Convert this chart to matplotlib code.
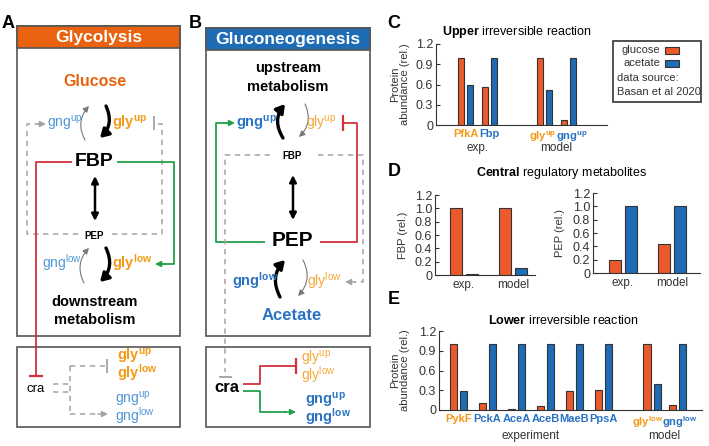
import matplotlib
matplotlib.use('Agg')
import matplotlib.pyplot as plt
from matplotlib.patches import Rectangle, FancyArrowPatch
import matplotlib.transforms as mtransforms

plt.rcParams['font.family'] = ['Liberation Sans', 'DejaVu Sans']
plt.rcParams['mathtext.fontset'] = 'custom'
plt.rcParams['mathtext.rm'] = 'Liberation Sans'
plt.rcParams['mathtext.bf'] = 'Liberation Sans:bold'
plt.rcParams['mathtext.it'] = 'Liberation Sans:italic'

# kolory
OR_BAR = '#ec5a2c'
BL_BAR = '#1e6bb6'
AMBER = '#f39a16'
LAMBER = '#f6a83a'
BL_TXT = '#2a72c2'
LBLUE = '#5096d6'
GREEN = '#23a04a'
RED = '#d3323c'
GREY = '#a3a3a3'
HDR_OR = '#e8620f'
HDR_BL = '#1d6cb4'
TXT = '#333333'

# ---------------- dane ----------------
c_labels = ['PfkA', 'Fbp', r'gly$^{\mathbf{up}}$', r'gng$^{\mathbf{up}}$']
c_colors = [AMBER, BL_TXT, AMBER, BL_TXT]
c_glucose = [1.0, 0.57, 1.0, 0.08]
c_acetate = [0.6, 1.0, 0.52, 1.0]
c_ticks = [0, 0.3, 0.6, 0.9, 1.2]

d_groups = ['exp.', 'model']
d_fbp_glucose = [1.0, 1.0]
d_fbp_acetate = [0.01, 0.1]
d_pep_glucose = [0.2, 0.44]
d_pep_acetate = [1.0, 1.0]
d_ticks = [0, 0.2, 0.4, 0.6, 0.8, 1.0, 1.2]

e_labels = ['PykF', 'PckA', 'AceA', 'AceB', 'MaeB', 'PpsA',
            r'gly$^{\mathbf{low}}$', r'gng$^{\mathbf{low}}$']
e_colors = [AMBER, BL_TXT, BL_TXT, BL_TXT, BL_TXT, BL_TXT, AMBER, BL_TXT]
e_glucose = [1.0, 0.1, 0.02, 0.06, 0.29, 0.31, 1.0, 0.08]
e_acetate = [0.29, 1.0, 1.0, 1.0, 1.0, 1.0, 0.39, 1.0]

# polozenia grup na osi x
c_pos = [0, 1, 3.3, 4.3]
d_pos = [0, 1]
e_pos = [0, 1, 2, 3, 4, 5, 6.68, 7.55]

W, H = 709, 446
fig = plt.figure(figsize=(W / 100, H / 100), dpi=100)

# warstwa na schematy (piksele, y w dol)
d = fig.add_axes([0, 0, 1, 1])
d.set_xlim(0, W)
d.set_ylim(H, 0)
d.axis('off')


def txt(x, y, s, size=10, color='black', weight='normal', **kw):
    d.text(x, y, s, fontsize=size, color=color, fontweight=weight,
           ha=kw.pop('ha', 'center'), va=kw.pop('va', 'center'), **kw)


def line(pts, color, lw=1.3, ls='-'):
    xs = [p[0] for p in pts]
    ys = [p[1] for p in pts]
    d.plot(xs, ys, color=color, lw=lw, ls=ls, solid_capstyle='butt')


def dashed(pts):
    line(pts, GREY, lw=1.1, ls=(0, (3.5, 3)))


def head(p0, p1, color, ms=9):
    d.add_patch(FancyArrowPatch(p0, p1, arrowstyle='-|>', color=color,
                                mutation_scale=ms, lw=1.0, shrinkA=0, shrinkB=0))


def arc(p0, p1, thick):
    if thick:
        a = FancyArrowPatch(p0, p1, connectionstyle='arc3,rad=-0.35',
                            arrowstyle='-|>,head_length=0.5,head_width=0.3',
                            color='black', lw=2.4, mutation_scale=10,
                            shrinkA=0, shrinkB=0)
    else:
        a = FancyArrowPatch(p0, p1, connectionstyle='arc3,rad=-0.35',
                            arrowstyle='-|>,head_length=0.5,head_width=0.25',
                            color='#777777', lw=0.8, mutation_scale=7,
                            shrinkA=0, shrinkB=0)
    d.add_patch(a)


def box(x0, y0, x1, y1):
    d.add_patch(Rectangle((x0, y0), x1 - x0, y1 - y0, fill=False,
                          ec='#555555', lw=1.2))


# ---------------- panel A ----------------
txt(8, 24, 'A', 13, weight='bold')
box(17, 26, 180, 336)
d.add_patch(Rectangle((17, 26), 163, 22, fc=HDR_OR, ec='#555555', lw=1.2))
txt(98.5, 37.5, 'Glycolysis', 12.5, 'white', 'bold')
txt(95, 81, 'Glucose', 11.5, HDR_OR, 'bold')

txt(65, 123, r'gng$^{\mathrm{up}}$', 10, LBLUE)
arc((85, 140), (89, 106), False)
arc((106, 106), (100, 138), True)
txt(130, 123, r'gly$^{\mathbf{up}}$', 10.5, AMBER, 'bold')
line([(154, 116), (154, 130)], GREY, lw=1.3)
dashed([(40, 124), (27, 124), (27, 234), (82, 234)])
head((38, 124), (46, 124), GREY)
dashed([(112, 234), (162, 234), (162, 124), (157, 124)])

txt(94, 161, 'FBP', 14, weight='bold')
line([(72, 162), (36, 162), (36, 376)], RED)
line([(29, 376), (43, 376)], RED, lw=1.6)
line([(117, 162), (174, 162), (174, 264), (162, 264)], GREEN)
head((163, 264), (155, 264), GREEN)

d.add_patch(FancyArrowPatch((95, 176), (95, 221), arrowstyle='<|-|>',
                            color='black', lw=1.8, mutation_scale=10,
                            shrinkA=0, shrinkB=0))
txt(94, 236, 'PEP', 7, weight='bold')

txt(62, 263, r'gng$^{\mathrm{low}}$', 10, LBLUE)
arc((84, 283), (89, 248), False)
arc((106, 248), (100, 282), True)
txt(132, 263, r'gly$^{\mathbf{low}}$', 10.5, AMBER, 'bold')
txt(95, 302, 'downstream', 10.5, weight='bold')
txt(95, 320, 'metabolism', 10.5, weight='bold')

box(17, 347, 180, 427)
txt(36, 389, 'cra', 9.5)
dashed([(53, 384), (70, 384)])
dashed([(53, 392), (70, 392)])
dashed([(70, 366), (70, 414)])
dashed([(70, 366), (105, 366)])
line([(107, 359), (107, 373)], GREY, lw=1.3)
dashed([(70, 414), (100, 414)])
head((98, 414), (108, 414), GREY)
txt(137, 365, 'gly$^{\\mathbf{up}}$\ngly$^{\\mathbf{low}}$', 10.5, AMBER, 'bold',
    linespacing=0.8, multialignment='left')
txt(135, 408, 'gng$^{\\mathrm{up}}$\ngng$^{\\mathrm{low}}$', 10, LBLUE,
    linespacing=0.8, multialignment='left')

# ---------------- panel B ----------------
txt(195, 24, 'B', 13, weight='bold')
box(206, 28, 370, 336)
d.add_patch(Rectangle((206, 28), 164, 22, fc=HDR_BL, ec='#555555', lw=1.2))
txt(288, 39.5, 'Gluconeogenesis', 12.5, 'white', 'bold')
txt(288, 68, 'upstream', 10.5, weight='bold')
txt(288, 87, 'metabolism', 10.5, weight='bold')

txt(257, 123, r'gng$^{\mathbf{up}}$', 10.5, BL_TXT, 'bold')
arc((283, 138), (285, 104), True)
arc((305, 104), (299, 137), False)
txt(321, 123, r'gly$^{\mathrm{up}}$', 10, LAMBER)
line([(343, 115), (343, 131)], RED, lw=1.6)
line([(343, 123), (357, 123), (357, 242), (320, 242)], RED)
line([(265, 242), (216, 242), (216, 123), (228, 123)], GREEN)
head((226, 123), (235, 123), GREEN)

dashed([(270, 155), (225, 155), (225, 372)])
line([(219, 377), (232, 377)], GREY, lw=1.3)
dashed([(318, 155), (363, 155), (363, 282), (354, 282)])
head((355, 282), (345, 282), GREY)
txt(292, 156, 'FBP', 7, weight='bold')

d.add_patch(FancyArrowPatch((293, 175), (293, 220), arrowstyle='<|-|>',
                            color='black', lw=1.8, mutation_scale=10,
                            shrinkA=0, shrinkB=0))
txt(292, 241, 'PEP', 15, weight='bold')

txt(255, 281, r'gng$^{\mathbf{low}}$', 10.5, BL_TXT, 'bold')
arc((280, 297), (285, 260), True)
arc((303, 260), (298, 296), False)
txt(324, 281, r'gly$^{\mathrm{low}}$', 10, LAMBER)
txt(292, 315, 'Acetate', 12, BL_TXT, 'bold')

box(206, 347, 370, 427)
txt(227, 388, 'cra', 12, weight='bold')
line([(243, 384), (260, 384), (260, 366), (295, 366)], RED)
line([(296, 358), (296, 374)], RED, lw=1.6)
line([(243, 391), (260, 391), (260, 412), (287, 412)], GREEN)
head((285, 412), (296, 412), GREEN)
txt(318, 367, 'gly$^{\\mathrm{up}}$\ngly$^{\\mathrm{low}}$', 10, LAMBER,
    linespacing=0.8, multialignment='left')
txt(328, 409, 'gng$^{\\mathbf{up}}$\ngng$^{\\mathbf{low}}$', 10.5, BL_TXT, 'bold',
    linespacing=0.8, multialignment='left')

# ---------------- wykresy slupkowe ----------------


def bar_ax(x0, x1, y0, y1):
    return fig.add_axes([x0 / W, 1 - y1 / H, (x1 - x0) / W, (y1 - y0) / H])


def style(ax, ticks):
    for s in ['top', 'right']:
        ax.spines[s].set_visible(False)
    for s in ['left', 'bottom']:
        ax.spines[s].set_color(TXT)
        ax.spines[s].set_linewidth(0.8)
    ax.set_ylim(0, 1.2)
    ax.set_yticks(ticks, ['0' if t == 0 else '%.1f' % t for t in ticks])
    ax.tick_params(axis='y', direction='in', length=3, labelsize=9,
                   pad=2, labelcolor=TXT, color=TXT)
    ax.tick_params(axis='x', length=0, pad=3)


def bars(ax, pos, glu, ace, off, w):
    ax.bar([p - off for p in pos], glu, w, color=OR_BAR, ec=TXT, lw=0.8)
    ax.bar([p + off for p in pos], ace, w, color=BL_BAR, ec=TXT, lw=0.8)


def color_ticks(ax, colors, shifts):
    for lab, col, dx in zip(ax.get_xticklabels(), colors, shifts):
        lab.set_color(col)
        lab.set_fontweight('bold')
        lab.set_fontsize(8)
        if dx:
            lab.set_transform(lab.get_transform() +
                              mtransforms.ScaledTranslation(dx / 100, 0, fig.dpi_scale_trans))


# C
txt(394, 23, 'C', 13, weight='bold')
txt(517, 32, r'$\mathbf{Upper}$ irreversible reaction', 9)
axc = bar_ax(436, 607, 44, 125)
bars(axc, c_pos, c_glucose, c_acetate, 0.18, 0.25)
style(axc, c_ticks)
axc.set_xlim(-1.24, 5.9)
axc.set_xticks(c_pos, c_labels)
color_ticks(axc, c_colors, [0, 0, -2, 3])
tr = mtransforms.blended_transform_factory(axc.transData, axc.transAxes)
axc.text(0.5, -0.29, 'exp.', transform=tr, ha='center', va='center', fontsize=8.5, color=TXT)
axc.text(3.8, -0.29, 'model', transform=tr, ha='center', va='center', fontsize=8.5, color=TXT)
axc.set_ylabel('Protein\nabundance (rel.)', fontsize=8, linespacing=1.0, color=TXT)
axc.yaxis.set_label_coords(-0.15, 0.5)

# legenda
d.add_patch(Rectangle((613, 41), 88, 61, fill=False, ec=TXT, lw=1.2))
txt(660, 50, 'glucose', 8, TXT, ha='right')
txt(660, 63, 'acetate', 8, TXT, ha='right')
d.add_patch(Rectangle((665, 46.5), 14, 7, fc=OR_BAR, ec=TXT, lw=0.8))
d.add_patch(Rectangle((665, 59.5), 14, 7, fc=BL_BAR, ec=TXT, lw=0.8))
txt(617, 78, 'data source:', 8, TXT, ha='left')
txt(617, 92, 'Basan et al 2020', 8, TXT, ha='left')

# D
txt(394, 171, 'D', 13, weight='bold')
txt(562, 173, r'$\mathbf{Central}$ regulatory metabolites', 9)
axd1 = bar_ax(435, 535, 195, 275)
bars(axd1, d_pos, d_fbp_glucose, d_fbp_acetate, 0.16, 0.245)
style(axd1, d_ticks)
axd1.set_xlim(-0.59, 1.45)
axd1.set_xticks(d_pos, d_groups, fontsize=8.5, color=TXT)
axd1.set_ylabel('FBP (rel.)', fontsize=8, color=TXT)
axd1.yaxis.set_label_coords(-0.27, 0.5)

axd2 = bar_ax(593, 700, 193, 273)
bars(axd2, d_pos, d_pep_glucose, d_pep_acetate, 0.16, 0.245)
style(axd2, d_ticks)
axd2.set_xlim(-0.61, 1.57)
axd2.set_xticks(d_pos, d_groups, fontsize=8.5, color=TXT)
axd2.set_ylabel('PEP (rel.)', fontsize=8, color=TXT)
axd2.yaxis.set_label_coords(-0.26, 0.5)

# E
txt(394, 299, 'E', 13, weight='bold')
txt(563, 320, r'$\mathbf{Lower}$ irreversible reaction', 9)
axe = bar_ax(439, 702, 331, 410)
bars(axe, e_pos, e_glucose, e_acetate, 0.18, 0.25)
style(axe, c_ticks)
axe.set_xlim(-0.67, 8.4)
axe.set_xticks(e_pos, e_labels)
color_ticks(axe, e_colors, [0, 0, 0, 0, 0, 0, -5, 2])
tr = mtransforms.blended_transform_factory(axe.transData, axe.transAxes)
axe.text(2.5, -0.33, 'experiment', transform=tr, ha='center', va='center', fontsize=8.5, color=TXT)
axe.text(7.1, -0.33, 'model', transform=tr, ha='center', va='center', fontsize=8.5, color=TXT)
axe.set_ylabel('Protein\nabundance (rel.)', fontsize=8, linespacing=1.0, color=TXT)
axe.yaxis.set_label_coords(-0.11, 0.5)

fig.savefig('out.png', dpi=100)
